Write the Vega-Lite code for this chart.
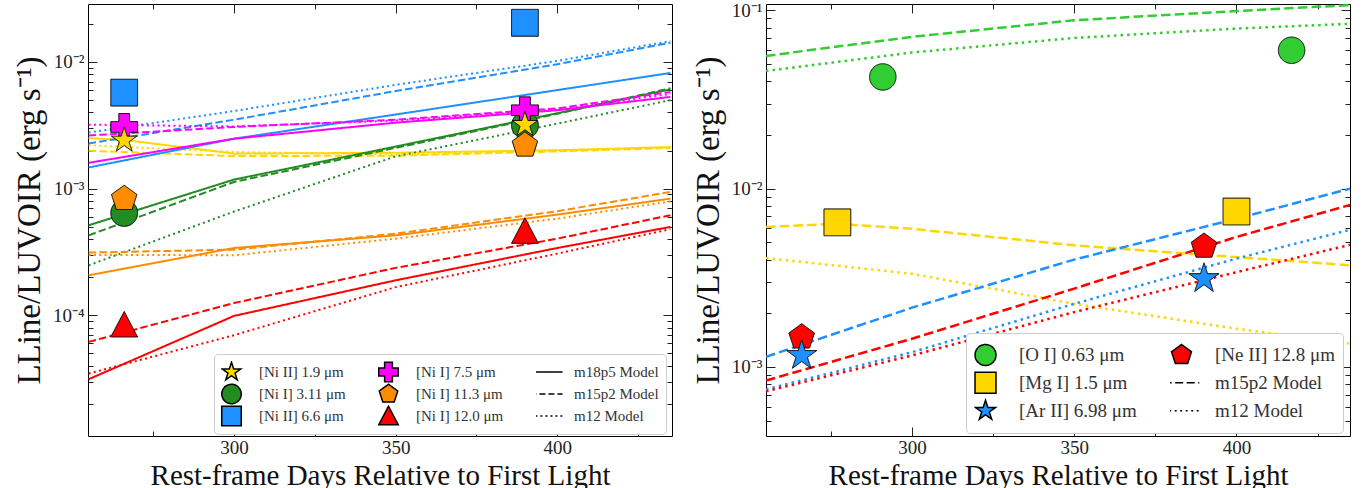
{
  "$schema": "https://vega.github.io/schema/vega-lite/v6.json",
  "background": "white",
  "padding": {"left": 12, "top": 0, "right": 5, "bottom": 0},
  "spacing": 18,
  "config": {
    "font": "Liberation Serif",
    "view": {"stroke": "black", "strokeWidth": 1},
    "axis": {"grid": false, "domain": false, "labelFont": "Liberation Serif", "labelFontSize": 19, "labelColor": "#222222", "titleFont": "Liberation Serif", "titleFontSize": 29, "titleFontWeight": "normal", "titleColor": "#111111", "tickColor": "#222222", "tickWidth": 1, "labelOverlap": false, "labelFlush": false},
    "legend": {"labelFont": "Liberation Serif", "labelColor": "#333333", "fillColor": "white", "strokeColor": "#cccccc", "cornerRadius": 4, "symbolStrokeWidth": 1.5}
  },
  "datasets": {
    "leftLines": [
      {"key": "[Ni II] 1.9 μm", "model": "m18p5", "day": 255, "value": 0.00251},
      {"key": "[Ni II] 1.9 μm", "model": "m18p5", "day": 267, "value": 0.00241},
      {"key": "[Ni II] 1.9 μm", "model": "m18p5", "day": 300, "value": 0.00189},
      {"key": "[Ni II] 1.9 μm", "model": "m18p5", "day": 350, "value": 0.00192},
      {"key": "[Ni II] 1.9 μm", "model": "m18p5", "day": 400, "value": 0.00201},
      {"key": "[Ni II] 1.9 μm", "model": "m18p5", "day": 435, "value": 0.00213},
      {"key": "[Ni II] 1.9 μm", "model": "m15p2", "day": 255, "value": 0.00199},
      {"key": "[Ni II] 1.9 μm", "model": "m15p2", "day": 300, "value": 0.00181},
      {"key": "[Ni II] 1.9 μm", "model": "m15p2", "day": 350, "value": 0.00182},
      {"key": "[Ni II] 1.9 μm", "model": "m15p2", "day": 400, "value": 0.00197},
      {"key": "[Ni II] 1.9 μm", "model": "m15p2", "day": 435, "value": 0.00209},
      {"key": "[Ni II] 1.9 μm", "model": "m12", "day": 255, "value": 0.0022},
      {"key": "[Ni II] 1.9 μm", "model": "m12", "day": 300, "value": 0.00195},
      {"key": "[Ni II] 1.9 μm", "model": "m12", "day": 350, "value": 0.00186},
      {"key": "[Ni II] 1.9 μm", "model": "m12", "day": 400, "value": 0.002},
      {"key": "[Ni II] 1.9 μm", "model": "m12", "day": 435, "value": 0.0021},
      {"key": "[Ni I] 3.11 μm", "model": "m18p5", "day": 255, "value": 0.000514},
      {"key": "[Ni I] 3.11 μm", "model": "m18p5", "day": 300, "value": 0.00118},
      {"key": "[Ni I] 3.11 μm", "model": "m18p5", "day": 350, "value": 0.00215},
      {"key": "[Ni I] 3.11 μm", "model": "m18p5", "day": 400, "value": 0.00394},
      {"key": "[Ni I] 3.11 μm", "model": "m18p5", "day": 435, "value": 0.00608},
      {"key": "[Ni I] 3.11 μm", "model": "m15p2", "day": 255, "value": 0.000428},
      {"key": "[Ni I] 3.11 μm", "model": "m15p2", "day": 300, "value": 0.00113},
      {"key": "[Ni I] 3.11 μm", "model": "m15p2", "day": 350, "value": 0.0021},
      {"key": "[Ni I] 3.11 μm", "model": "m15p2", "day": 400, "value": 0.0039},
      {"key": "[Ni I] 3.11 μm", "model": "m15p2", "day": 435, "value": 0.0062},
      {"key": "[Ni I] 3.11 μm", "model": "m12", "day": 255, "value": 0.000248},
      {"key": "[Ni I] 3.11 μm", "model": "m12", "day": 300, "value": 0.00066},
      {"key": "[Ni I] 3.11 μm", "model": "m12", "day": 350, "value": 0.0018},
      {"key": "[Ni I] 3.11 μm", "model": "m12", "day": 400, "value": 0.00326},
      {"key": "[Ni I] 3.11 μm", "model": "m12", "day": 435, "value": 0.005},
      {"key": "[Ni II] 6.6 μm", "model": "m18p5", "day": 255, "value": 0.00147},
      {"key": "[Ni II] 6.6 μm", "model": "m18p5", "day": 300, "value": 0.00248},
      {"key": "[Ni II] 6.6 μm", "model": "m18p5", "day": 350, "value": 0.00385},
      {"key": "[Ni II] 6.6 μm", "model": "m18p5", "day": 400, "value": 0.006},
      {"key": "[Ni II] 6.6 μm", "model": "m18p5", "day": 435, "value": 0.00819},
      {"key": "[Ni II] 6.6 μm", "model": "m15p2", "day": 255, "value": 0.00227},
      {"key": "[Ni II] 6.6 μm", "model": "m15p2", "day": 300, "value": 0.0035},
      {"key": "[Ni II] 6.6 μm", "model": "m15p2", "day": 350, "value": 0.0059},
      {"key": "[Ni II] 6.6 μm", "model": "m15p2", "day": 400, "value": 0.0096},
      {"key": "[Ni II] 6.6 μm", "model": "m15p2", "day": 435, "value": 0.0142},
      {"key": "[Ni II] 6.6 μm", "model": "m12", "day": 255, "value": 0.00277},
      {"key": "[Ni II] 6.6 μm", "model": "m12", "day": 300, "value": 0.0041},
      {"key": "[Ni II] 6.6 μm", "model": "m12", "day": 350, "value": 0.0066},
      {"key": "[Ni II] 6.6 μm", "model": "m12", "day": 400, "value": 0.0102},
      {"key": "[Ni II] 6.6 μm", "model": "m12", "day": 435, "value": 0.0146},
      {"key": "[Ni I] 7.5 μm", "model": "m18p5", "day": 255, "value": 0.0016},
      {"key": "[Ni I] 7.5 μm", "model": "m18p5", "day": 300, "value": 0.00248},
      {"key": "[Ni I] 7.5 μm", "model": "m18p5", "day": 350, "value": 0.00332},
      {"key": "[Ni I] 7.5 μm", "model": "m18p5", "day": 400, "value": 0.00416},
      {"key": "[Ni I] 7.5 μm", "model": "m18p5", "day": 435, "value": 0.0053},
      {"key": "[Ni I] 7.5 μm", "model": "m15p2", "day": 255, "value": 0.00263},
      {"key": "[Ni I] 7.5 μm", "model": "m15p2", "day": 300, "value": 0.00307},
      {"key": "[Ni I] 7.5 μm", "model": "m15p2", "day": 350, "value": 0.0035},
      {"key": "[Ni I] 7.5 μm", "model": "m15p2", "day": 400, "value": 0.0043},
      {"key": "[Ni I] 7.5 μm", "model": "m15p2", "day": 435, "value": 0.0058},
      {"key": "[Ni I] 7.5 μm", "model": "m12", "day": 255, "value": 0.0032},
      {"key": "[Ni I] 7.5 μm", "model": "m12", "day": 300, "value": 0.0031},
      {"key": "[Ni I] 7.5 μm", "model": "m12", "day": 350, "value": 0.00345},
      {"key": "[Ni I] 7.5 μm", "model": "m12", "day": 400, "value": 0.0042},
      {"key": "[Ni I] 7.5 μm", "model": "m12", "day": 435, "value": 0.0056},
      {"key": "[Ni I] 11.3 μm", "model": "m18p5", "day": 255, "value": 0.000207},
      {"key": "[Ni I] 11.3 μm", "model": "m18p5", "day": 300, "value": 0.00034},
      {"key": "[Ni I] 11.3 μm", "model": "m18p5", "day": 350, "value": 0.000428},
      {"key": "[Ni I] 11.3 μm", "model": "m18p5", "day": 400, "value": 0.000624},
      {"key": "[Ni I] 11.3 μm", "model": "m18p5", "day": 435, "value": 0.000834},
      {"key": "[Ni I] 11.3 μm", "model": "m15p2", "day": 255, "value": 0.000313},
      {"key": "[Ni I] 11.3 μm", "model": "m15p2", "day": 300, "value": 0.00033},
      {"key": "[Ni I] 11.3 μm", "model": "m15p2", "day": 350, "value": 0.000441},
      {"key": "[Ni I] 11.3 μm", "model": "m15p2", "day": 400, "value": 0.000664},
      {"key": "[Ni I] 11.3 μm", "model": "m15p2", "day": 435, "value": 0.000942},
      {"key": "[Ni I] 11.3 μm", "model": "m12", "day": 255, "value": 0.0003},
      {"key": "[Ni I] 11.3 μm", "model": "m12", "day": 300, "value": 0.000298},
      {"key": "[Ni I] 11.3 μm", "model": "m12", "day": 350, "value": 0.000403},
      {"key": "[Ni I] 11.3 μm", "model": "m12", "day": 400, "value": 0.00058},
      {"key": "[Ni I] 11.3 μm", "model": "m12", "day": 435, "value": 0.000794},
      {"key": "[Ni I] 12.0 μm", "model": "m18p5", "day": 255, "value": 0.0000313},
      {"key": "[Ni I] 12.0 μm", "model": "m18p5", "day": 300, "value": 0.000099},
      {"key": "[Ni I] 12.0 μm", "model": "m18p5", "day": 350, "value": 0.000189},
      {"key": "[Ni I] 12.0 μm", "model": "m18p5", "day": 400, "value": 0.00034},
      {"key": "[Ni I] 12.0 μm", "model": "m18p5", "day": 435, "value": 0.000499},
      {"key": "[Ni I] 12.0 μm", "model": "m15p2", "day": 255, "value": 0.0000617},
      {"key": "[Ni I] 12.0 μm", "model": "m15p2", "day": 300, "value": 0.000125},
      {"key": "[Ni I] 12.0 μm", "model": "m15p2", "day": 350, "value": 0.000237},
      {"key": "[Ni I] 12.0 μm", "model": "m15p2", "day": 400, "value": 0.000403},
      {"key": "[Ni I] 12.0 μm", "model": "m15p2", "day": 435, "value": 0.000617},
      {"key": "[Ni I] 12.0 μm", "model": "m12", "day": 255, "value": 0.0000347},
      {"key": "[Ni I] 12.0 μm", "model": "m12", "day": 300, "value": 0.0000697},
      {"key": "[Ni I] 12.0 μm", "model": "m12", "day": 350, "value": 0.000167},
      {"key": "[Ni I] 12.0 μm", "model": "m12", "day": 400, "value": 0.000307},
      {"key": "[Ni I] 12.0 μm", "model": "m12", "day": 435, "value": 0.000479}
    ],
    "leftPoints": [
      {"key": "[Ni I] 3.11 μm", "day": 266, "value": 0.000643},
      {"key": "[Ni I] 11.3 μm", "day": 266, "value": 0.000834},
      {"key": "[Ni I] 7.5 μm", "day": 266, "value": 0.00307},
      {"key": "[Ni II] 1.9 μm", "day": 266, "value": 0.00241},
      {"key": "[Ni II] 6.6 μm", "day": 266, "value": 0.00573},
      {"key": "[Ni I] 12.0 μm", "day": 266, "value": 0.000084},
      {"key": "[Ni I] 3.11 μm", "day": 390, "value": 0.00316},
      {"key": "[Ni I] 11.3 μm", "day": 390, "value": 0.0022},
      {"key": "[Ni I] 7.5 μm", "day": 390, "value": 0.00416},
      {"key": "[Ni II] 1.9 μm", "day": 390, "value": 0.0032},
      {"key": "[Ni II] 6.6 μm", "day": 390, "value": 0.0204},
      {"key": "[Ni I] 12.0 μm", "day": 390, "value": 0.000461}
    ],
    "rightLines": [
      {"key": "[O I] 0.63 μm", "model": "m15p2", "day": 255, "value": 0.0555},
      {"key": "[O I] 0.63 μm", "model": "m15p2", "day": 300, "value": 0.071},
      {"key": "[O I] 0.63 μm", "model": "m15p2", "day": 350, "value": 0.088},
      {"key": "[O I] 0.63 μm", "model": "m15p2", "day": 400, "value": 0.099},
      {"key": "[O I] 0.63 μm", "model": "m15p2", "day": 435, "value": 0.107},
      {"key": "[O I] 0.63 μm", "model": "m12", "day": 255, "value": 0.0457},
      {"key": "[O I] 0.63 μm", "model": "m12", "day": 300, "value": 0.058},
      {"key": "[O I] 0.63 μm", "model": "m12", "day": 350, "value": 0.07},
      {"key": "[O I] 0.63 μm", "model": "m12", "day": 400, "value": 0.079},
      {"key": "[O I] 0.63 μm", "model": "m12", "day": 435, "value": 0.084},
      {"key": "[Mg I] 1.5 μm", "model": "m15p2", "day": 255, "value": 0.0061},
      {"key": "[Mg I] 1.5 μm", "model": "m15p2", "day": 277, "value": 0.00635},
      {"key": "[Mg I] 1.5 μm", "model": "m15p2", "day": 300, "value": 0.00595},
      {"key": "[Mg I] 1.5 μm", "model": "m15p2", "day": 350, "value": 0.00481},
      {"key": "[Mg I] 1.5 μm", "model": "m15p2", "day": 400, "value": 0.00413},
      {"key": "[Mg I] 1.5 μm", "model": "m15p2", "day": 435, "value": 0.00372},
      {"key": "[Mg I] 1.5 μm", "model": "m12", "day": 255, "value": 0.00408},
      {"key": "[Mg I] 1.5 μm", "model": "m12", "day": 300, "value": 0.00333},
      {"key": "[Mg I] 1.5 μm", "model": "m12", "day": 350, "value": 0.00226},
      {"key": "[Mg I] 1.5 μm", "model": "m12", "day": 400, "value": 0.00164},
      {"key": "[Mg I] 1.5 μm", "model": "m12", "day": 435, "value": 0.00135},
      {"key": "[Ar II] 6.98 μm", "model": "m15p2", "day": 255, "value": 0.00114},
      {"key": "[Ar II] 6.98 μm", "model": "m15p2", "day": 300, "value": 0.00215},
      {"key": "[Ar II] 6.98 μm", "model": "m15p2", "day": 350, "value": 0.004},
      {"key": "[Ar II] 6.98 μm", "model": "m15p2", "day": 400, "value": 0.00678},
      {"key": "[Ar II] 6.98 μm", "model": "m15p2", "day": 435, "value": 0.01},
      {"key": "[Ar II] 6.98 μm", "model": "m12", "day": 255, "value": 0.000748},
      {"key": "[Ar II] 6.98 μm", "model": "m12", "day": 300, "value": 0.00121},
      {"key": "[Ar II] 6.98 μm", "model": "m12", "day": 350, "value": 0.00226},
      {"key": "[Ar II] 6.98 μm", "model": "m12", "day": 400, "value": 0.00405},
      {"key": "[Ar II] 6.98 μm", "model": "m12", "day": 435, "value": 0.00588},
      {"key": "[Ne II] 12.8 μm", "model": "m15p2", "day": 255, "value": 0.000839},
      {"key": "[Ne II] 12.8 μm", "model": "m15p2", "day": 300, "value": 0.00144},
      {"key": "[Ne II] 12.8 μm", "model": "m15p2", "day": 350, "value": 0.00275},
      {"key": "[Ne II] 12.8 μm", "model": "m15p2", "day": 400, "value": 0.00536},
      {"key": "[Ne II] 12.8 μm", "model": "m15p2", "day": 435, "value": 0.0081},
      {"key": "[Ne II] 12.8 μm", "model": "m12", "day": 255, "value": 0.00073},
      {"key": "[Ne II] 12.8 μm", "model": "m12", "day": 300, "value": 0.00116},
      {"key": "[Ne II] 12.8 μm", "model": "m12", "day": 350, "value": 0.00203},
      {"key": "[Ne II] 12.8 μm", "model": "m12", "day": 400, "value": 0.0034},
      {"key": "[Ne II] 12.8 μm", "model": "m12", "day": 435, "value": 0.00484}
    ],
    "rightPoints": [
      {"key": "[O I] 0.63 μm", "day": 291, "value": 0.0423},
      {"key": "[O I] 0.63 μm", "day": 417, "value": 0.0597},
      {"key": "[Mg I] 1.5 μm", "day": 277, "value": 0.00647},
      {"key": "[Mg I] 1.5 μm", "day": 400, "value": 0.00744},
      {"key": "[Ne II] 12.8 μm", "day": 266, "value": 0.00147},
      {"key": "[Ne II] 12.8 μm", "day": 390, "value": 0.00474},
      {"key": "[Ar II] 6.98 μm", "day": 266, "value": 0.00116},
      {"key": "[Ar II] 6.98 μm", "day": 390, "value": 0.00313}
    ]
  },
  "hconcat": [
    {
      "width": 584,
      "height": 432,
      "layer": [
        {
          "data": {"name": "leftLines"},
          "mark": {"type": "line", "strokeWidth": 2, "clip": true},
          "encoding": {
            "x": {"field": "day", "type": "quantitative", "scale": {"domain": [254.8, 435.5], "nice": false, "zero": false},
              "axis": {"orient": "bottom", "title": "Rest-frame Days Relative to First Light", "values": [275, 300, 325, 350, 375, 400, 425], "labelExpr": "datum.value % 50 == 0 ? datum.label : ''", "tickSize": {"condition": {"test": "datum.value % 50 == 0", "value": -9}, "value": -5}, "labelPadding": 11, "titlePadding": 0}},
            "y": {"field": "value", "type": "quantitative", "scale": {"type": "log", "domain": [0.00001115, 0.0287], "nice": false},
              "axis": {"orient": "left", "title": "LLine/LUVOIR (erg s⁻¹)", "titleFontSize": 33, "values": [0.00002, 0.00003, 0.00004, 0.00005, 0.00006, 0.00007, 0.00008, 0.00009, 0.0001, 0.0002, 0.0003, 0.0004, 0.0005, 0.0006, 0.0007, 0.0008, 0.0009, 0.001, 0.002, 0.003, 0.004, 0.005, 0.006, 0.007, 0.008, 0.009, 0.01, 0.02],
                "labelExpr": "abs(log(datum.value)/LN10 - round(log(datum.value)/LN10)) < 0.001 ? '10' + replace(replace(replace(replace(replace('' + round(log(datum.value)/LN10), '-', '⁻'), '1', '¹'), '2', '²'), '3', '³'), '4', '⁴') : ''",
                "tickSize": {"condition": {"test": "abs(log(datum.value)/LN10 - round(log(datum.value)/LN10)) < 0.001", "value": -9}, "value": -5}, "labelPadding": 13, "titlePadding": 6}},
            "stroke": {"field": "key", "type": "nominal", "scale": {"domain": ["[Ni II] 1.9 μm", "[Ni I] 3.11 μm", "[Ni II] 6.6 μm", "[Ni I] 7.5 μm", "[Ni I] 11.3 μm", "[Ni I] 12.0 μm"], "range": ["#FFD700", "#228B22", "#1E90FF", "#FF00FF", "#FF8C00", "#FF0000"]}, "legend": null},
            "strokeDash": {"field": "model", "type": "nominal", "scale": {"domain": ["m18p5", "m15p2", "m12"], "range": [[1, 0], [7.5, 3.2], [2, 3.3]]}, "legend": null}
          }
        },
        {
          "data": {"name": "leftPoints"},
          "mark": {"type": "point", "filled": true, "strokeWidth": 1, "opacity": 1, "size": 720},
          "encoding": {
            "x": {"field": "day", "type": "quantitative", "scale": {"domain": [254.8, 435.5], "nice": false, "zero": false},
              "axis": {"orient": "top", "title": null, "labels": false, "values": [275, 300, 325, 350, 375, 400, 425], "tickSize": {"condition": {"test": "datum.value % 50 == 0", "value": -9}, "value": -5}}},
            "y": {"field": "value", "type": "quantitative", "scale": {"type": "log", "domain": [0.00001115, 0.0287], "nice": false},
              "axis": {"orient": "right", "title": null, "labels": false, "values": [0.00002, 0.00003, 0.00004, 0.00005, 0.00006, 0.00007, 0.00008, 0.00009, 0.0001, 0.0002, 0.0003, 0.0004, 0.0005, 0.0006, 0.0007, 0.0008, 0.0009, 0.001, 0.002, 0.003, 0.004, 0.005, 0.006, 0.007, 0.008, 0.009, 0.01, 0.02],
                "tickSize": {"condition": {"test": "abs(log(datum.value)/LN10 - round(log(datum.value)/LN10)) < 0.001", "value": -9}, "value": -5}}},
            "fill": {"field": "key", "type": "nominal",
              "scale": {"domain": ["[Ni II] 1.9 μm", "[Ni I] 3.11 μm", "[Ni II] 6.6 μm", "[Ni I] 7.5 μm", "[Ni I] 11.3 μm", "[Ni I] 12.0 μm", "m18p5 Model", "m15p2 Model", "m12 Model"], "range": ["#FFD700", "#228B22", "#1E90FF", "#FF00FF", "#FF8C00", "#FF0000", "black", "black", "black"]},
              "legend": {"orient": "none", "legendX": 126, "legendY": 350, "columns": 3, "title": null, "labelFontSize": 15, "symbolSize": 380, "clipHeight": 22, "padding": 7, "rowPadding": 0, "columnPadding": 32, "labelOffset": 17, "labelLimit": 300}},
            "stroke": {"field": "key", "type": "nominal",
              "scale": {"domain": ["[Ni II] 1.9 μm", "[Ni I] 3.11 μm", "[Ni II] 6.6 μm", "[Ni I] 7.5 μm", "[Ni I] 11.3 μm", "[Ni I] 12.0 μm", "m18p5 Model", "m15p2 Model", "m12 Model"], "range": ["black", "black", "black", "black", "black", "black", "black", "black", "black"]},
              "legend": {"orient": "none", "legendX": 126, "legendY": 350, "columns": 3, "title": null, "labelFontSize": 15, "symbolSize": 380, "clipHeight": 22, "padding": 7, "rowPadding": 0, "columnPadding": 32, "labelOffset": 17, "labelLimit": 300}},
            "shape": {"field": "key", "type": "nominal",
              "scale": {"domain": ["[Ni II] 1.9 μm", "[Ni I] 3.11 μm", "[Ni II] 6.6 μm", "[Ni I] 7.5 μm", "[Ni I] 11.3 μm", "[Ni I] 12.0 μm", "m18p5 Model", "m15p2 Model", "m12 Model"],
                "range": ["M0,-1L0.2245,-0.309L0.951,-0.309L0.363,0.118L0.588,0.809L0,0.382L-0.588,0.809L-0.363,0.118L-0.951,-0.309L-0.2245,-0.309Z", "circle", "square", "M-0.4,-1L0.4,-1L0.4,-0.4L1,-0.4L1,0.4L0.4,0.4L0.4,1L-0.4,1L-0.4,0.4L-1,0.4L-1,-0.4L-0.4,-0.4Z", "M0,-1L0.951,-0.309L0.588,0.809L-0.588,0.809L-0.951,-0.309Z", "M0,-1L1,0.9L-1,0.9Z", "M-1.65,0L1.65,0", "M-1.65,0L1.65,0", "M-1.65,0L1.65,0"]},
              "legend": {"orient": "none", "legendX": 126, "legendY": 350, "columns": 3, "title": null, "labelFontSize": 15, "symbolSize": 380, "clipHeight": 22, "padding": 7, "rowPadding": 0, "columnPadding": 32, "labelOffset": 17, "labelLimit": 300}},
            "strokeDash": {"field": "key", "type": "nominal",
              "scale": {"domain": ["[Ni II] 1.9 μm", "[Ni I] 3.11 μm", "[Ni II] 6.6 μm", "[Ni I] 7.5 μm", "[Ni I] 11.3 μm", "[Ni I] 12.0 μm", "m18p5 Model", "m15p2 Model", "m12 Model"], "range": [[1, 0], [1, 0], [1, 0], [1, 0], [1, 0], [1, 0], [1, 0], [6, 3], [2, 3]]},
              "legend": {"orient": "none", "legendX": 126, "legendY": 350, "columns": 3, "title": null, "labelFontSize": 15, "symbolSize": 380, "clipHeight": 22, "padding": 7, "rowPadding": 0, "columnPadding": 32, "labelOffset": 17, "labelLimit": 300}}
          }
        }
      ],
      "resolve": {"scale": {"strokeDash": "independent", "fill": "independent", "shape": "independent", "stroke": "independent"}, "legend": {"strokeDash": "independent", "fill": "independent", "shape": "independent", "stroke": "independent"}, "axis": {"x": "independent", "y": "independent"}}
    },
    {
      "width": 584,
      "height": 432,
      "layer": [
        {
          "data": {"name": "rightLines"},
          "mark": {"type": "line", "strokeWidth": 2.5, "clip": true},
          "encoding": {
            "x": {"field": "day", "type": "quantitative", "scale": {"domain": [255, 435], "nice": false, "zero": false},
              "axis": {"orient": "bottom", "title": "Rest-frame Days Relative to First Light", "values": [275, 300, 325, 350, 375, 400, 425], "labelExpr": "datum.value % 50 == 0 ? datum.label : ''", "tickSize": {"condition": {"test": "datum.value % 50 == 0", "value": -9}, "value": -5}, "labelPadding": 11, "titlePadding": 0}},
            "y": {"field": "value", "type": "quantitative", "scale": {"type": "log", "domain": [0.00041, 0.1085], "nice": false},
              "axis": {"orient": "left", "title": "LLine/LUVOIR (erg s⁻¹)", "titleFontSize": 33, "values": [0.0005, 0.0006, 0.0007, 0.0008, 0.0009, 0.001, 0.002, 0.003, 0.004, 0.005, 0.006, 0.007, 0.008, 0.009, 0.01, 0.02, 0.03, 0.04, 0.05, 0.06, 0.07, 0.08, 0.09, 0.1],
                "labelExpr": "abs(log(datum.value)/LN10 - round(log(datum.value)/LN10)) < 0.001 ? '10' + replace(replace(replace(replace(replace('' + round(log(datum.value)/LN10), '-', '⁻'), '1', '¹'), '2', '²'), '3', '³'), '4', '⁴') : ''",
                "tickSize": {"condition": {"test": "abs(log(datum.value)/LN10 - round(log(datum.value)/LN10)) < 0.001", "value": -9}, "value": -5}, "labelPadding": 13, "titlePadding": 6}},
            "stroke": {"field": "key", "type": "nominal", "scale": {"domain": ["[O I] 0.63 μm", "[Mg I] 1.5 μm", "[Ar II] 6.98 μm", "[Ne II] 12.8 μm"], "range": ["#32CD32", "#FFD700", "#1E90FF", "#FF0000"]}, "legend": null},
            "strokeDash": {"field": "model", "type": "nominal", "scale": {"domain": ["m15p2", "m12"], "range": [[9.5, 4.2], [2.5, 4.1]]}, "legend": null}
          }
        },
        {
          "data": {"name": "rightPoints"},
          "mark": {"type": "point", "filled": true, "strokeWidth": 1, "opacity": 1},
          "encoding": {
            "x": {"field": "day", "type": "quantitative", "scale": {"domain": [255, 435], "nice": false, "zero": false},
              "axis": {"orient": "top", "title": null, "labels": false, "values": [275, 300, 325, 350, 375, 400, 425], "tickSize": {"condition": {"test": "datum.value % 50 == 0", "value": -9}, "value": -5}}},
            "y": {"field": "value", "type": "quantitative", "scale": {"type": "log", "domain": [0.00041, 0.1085], "nice": false},
              "axis": {"orient": "right", "title": null, "labels": false, "values": [0.0005, 0.0006, 0.0007, 0.0008, 0.0009, 0.001, 0.002, 0.003, 0.004, 0.005, 0.006, 0.007, 0.008, 0.009, 0.01, 0.02, 0.03, 0.04, 0.05, 0.06, 0.07, 0.08, 0.09, 0.1],
                "tickSize": {"condition": {"test": "abs(log(datum.value)/LN10 - round(log(datum.value)/LN10)) < 0.001", "value": -9}, "value": -5}}},
            "size": {"field": "key", "type": "nominal", "scale": {"type": "ordinal", "domain": ["[O I] 0.63 μm", "[Mg I] 1.5 μm", "[Ar II] 6.98 μm", "[Ne II] 12.8 μm"], "range": [700, 720, 1000, 720]}, "legend": null},
            "fill": {"field": "key", "type": "nominal",
              "scale": {"domain": ["[O I] 0.63 μm", "[Mg I] 1.5 μm", "[Ar II] 6.98 μm", "[Ne II] 12.8 μm", "m15p2 Model", "m12 Model"], "range": ["#32CD32", "#FFD700", "#1E90FF", "#FF0000", "black", "black"]},
              "legend": {"orient": "none", "legendX": 200, "legendY": 329, "columns": 2, "title": null, "labelFontSize": 19, "symbolSize": 440, "clipHeight": 27.5, "padding": 8, "rowPadding": 0, "columnPadding": 33, "labelOffset": 22, "labelLimit": 300}},
            "stroke": {"field": "key", "type": "nominal",
              "scale": {"domain": ["[O I] 0.63 μm", "[Mg I] 1.5 μm", "[Ar II] 6.98 μm", "[Ne II] 12.8 μm", "m15p2 Model", "m12 Model"], "range": ["black", "black", "black", "black", "black", "black"]},
              "legend": {"orient": "none", "legendX": 200, "legendY": 329, "columns": 2, "title": null, "labelFontSize": 19, "symbolSize": 440, "clipHeight": 27.5, "padding": 8, "rowPadding": 0, "columnPadding": 33, "labelOffset": 22, "labelLimit": 300}},
            "shape": {"field": "key", "type": "nominal",
              "scale": {"domain": ["[O I] 0.63 μm", "[Mg I] 1.5 μm", "[Ar II] 6.98 μm", "[Ne II] 12.8 μm", "m15p2 Model", "m12 Model"],
                "range": ["circle", "square", "M0,-1L0.2245,-0.309L0.951,-0.309L0.363,0.118L0.588,0.809L0,0.382L-0.588,0.809L-0.363,0.118L-0.951,-0.309L-0.2245,-0.309Z", "M0,-1L0.951,-0.309L0.588,0.809L-0.588,0.809L-0.951,-0.309Z", "M-1.7,0L1.7,0", "M-1.7,0L1.7,0"]},
              "legend": {"orient": "none", "legendX": 200, "legendY": 329, "columns": 2, "title": null, "labelFontSize": 19, "symbolSize": 440, "clipHeight": 27.5, "padding": 8, "rowPadding": 0, "columnPadding": 33, "labelOffset": 22, "labelLimit": 300}},
            "strokeDash": {"field": "key", "type": "nominal",
              "scale": {"domain": ["[O I] 0.63 μm", "[Mg I] 1.5 μm", "[Ar II] 6.98 μm", "[Ne II] 12.8 μm", "m15p2 Model", "m12 Model"], "range": [[1, 0], [1, 0], [1, 0], [1, 0], [8, 3.5], [2, 3.5]]},
              "legend": {"orient": "none", "legendX": 200, "legendY": 329, "columns": 2, "title": null, "labelFontSize": 19, "symbolSize": 440, "clipHeight": 27.5, "padding": 8, "rowPadding": 0, "columnPadding": 33, "labelOffset": 22, "labelLimit": 300}}
          }
        }
      ],
      "resolve": {"scale": {"strokeDash": "independent", "fill": "independent", "shape": "independent", "size": "independent", "stroke": "independent"}, "legend": {"strokeDash": "independent", "fill": "independent", "shape": "independent", "stroke": "independent"}, "axis": {"x": "independent", "y": "independent"}}
    }
  ],
  "resolve": {
    "scale": {"x": "independent", "y": "independent", "fill": "independent", "stroke": "independent", "shape": "independent", "strokeDash": "independent", "size": "independent"},
    "legend": {"fill": "independent", "shape": "independent", "strokeDash": "independent", "stroke": "independent"}
  }
}
